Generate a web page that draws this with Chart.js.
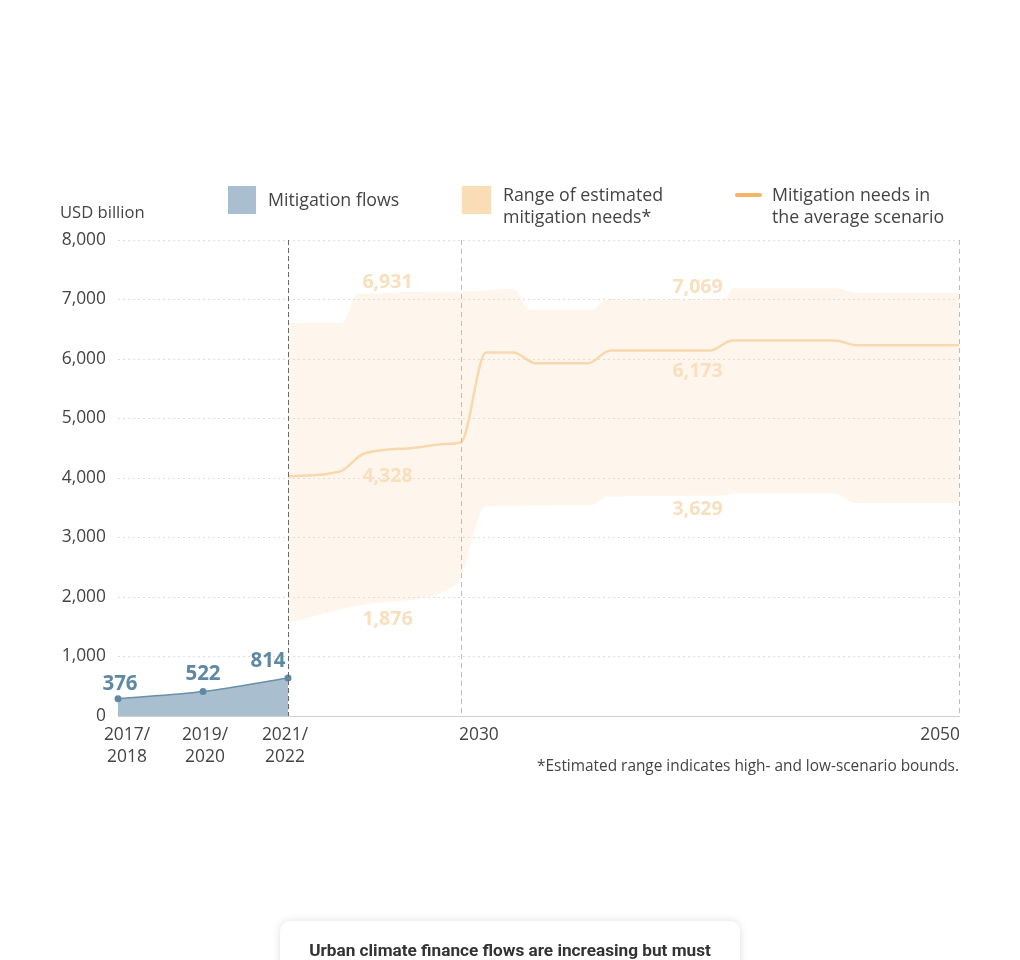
<!DOCTYPE html>
<html>
<head>
<meta charset="utf-8">
<script src="https://cdn.jsdelivr.net/npm/chart.js@4.4.1/dist/chart.umd.min.js"></script>
<style>
  html, body { margin:0; padding:0; background:#fff; }
  body { width:1020px; height:960px; overflow:hidden; position:relative; font-family:"Open Sans", sans-serif; color:#444; }
  #wrap { position:absolute; left:0; top:0; width:1020px; height:960px; }
  .lg { position:absolute; font-size:17.8px; line-height:22px; color:#444; }
  .sw { position:absolute; }
  #card { position:absolute; left:280px; top:921px; width:460px; height:80px; background:#fff; border-radius:10px;
          box-shadow:0 0 8px rgba(0,0,0,0.13); }
  #card div { font-family:Roboto, sans-serif; font-weight:700; font-size:17.2px; color:#333; text-align:center; margin-top:19px; white-space:nowrap; }
</style>
</head>
<body>
<div id="wrap"><canvas id="c"></canvas></div>

<div class="lg" style="left:60px; top:201px; font-size:16.6px;">USD billion</div>
<div class="sw" style="left:228px; top:186px; width:28px; height:28px; background:#A9BFCF;"></div>
<div class="lg" style="left:268px; top:188px;">Mitigation flows</div>
<div class="sw" style="left:462px; top:186px; width:29px; height:28px; background:#FADDB4;"></div>
<div class="lg" style="left:503px; top:183px;">Range of estimated<br>mitigation needs*</div>
<div class="sw" style="left:735px; top:193px; width:27px; height:4px; border-radius:2px; background:#F5B468;"></div>
<div class="lg" style="left:772px; top:183px;">Mitigation needs in<br>the average scenario</div>
<div class="lg" style="right:61px; top:755px; font-size:15.4px; text-align:right;">*Estimated range indicates high- and low-scenario bounds.</div>

<div id="card"><div>Urban climate finance flows are increasing but must</div></div>

<script>
// ---------------- data ----------------
const flowYears   = [2018, 2020, 2022];
const flowValues  = [290, 410, 640];
const flowLabels  = [376, 522, 814];

const highYears   = [2022, 2024.5, 2025.2, 2030, 2032.1, 2032.8, 2035.2, 2035.9, 2040.6, 2040.9, 2045.1, 2045.8, 2050];
const highValues  = [6604, 6604, 7093, 7130, 7180, 6826, 6826, 7005, 7010, 7190, 7190, 7117, 7117];

const lowYears    = [2022, 2026, 2029.8, 2031, 2035.2, 2035.9, 2040.5, 2041, 2045, 2045.8, 2050];
const lowValues   = [1565, 1895, 2208, 3523, 3540, 3690, 3700, 3740, 3740, 3580, 3580];

const meanYears   = [2022, 2024.4, 2025.5, 2027.8, 2029.4, 2030, 2031, 2032.1, 2033, 2035.1, 2036, 2040, 2040.9, 2045, 2045.9, 2050];
const meanValues  = [4027, 4110, 4407, 4506, 4574, 4600, 6108, 6108, 5930, 5930, 6142, 6142, 6310, 6310, 6232, 6232];

const periodHigh  = [6931, 7069];
const periodMean  = [4328, 6173];
const periodLow   = [1876, 3629];

const xTickYears  = [2018, 2020, 2022, 2030, 2050];
const xTickLabels = [["2017/", "2018"], ["2019/", "2020"], ["2021/", "2022"], ["2030"], ["2050"]];
const yTicks      = [0, 1000, 2000, 3000, 4000, 5000, 6000, 7000, 8000];

// ---------------- piecewise time scale ----------------
const bpValues = [2018, 2022, 2030, 2050];
const bpFracs  = [0, 170/841, 343/841, 1];

class PiecewiseScale extends Chart.LinearScale {
  static id = 'piecewise';
  static defaults = Chart.LinearScale.defaults;
  getPixelForValue(value) {
    if (value === null || value === undefined || isNaN(value)) return NaN;
    let i = 0;
    while (i < bpValues.length - 2 && value > bpValues[i + 1]) i++;
    const f = bpFracs[i] + (value - bpValues[i]) / (bpValues[i + 1] - bpValues[i]) * (bpFracs[i + 1] - bpFracs[i]);
    return this.getPixelForDecimal(f);
  }
  getValueForPixel(pixel) {
    const f = this.getDecimalForPixel(pixel);
    let i = 0;
    while (i < bpFracs.length - 2 && f > bpFracs[i + 1]) i++;
    return bpValues[i] + (f - bpFracs[i]) / (bpFracs[i + 1] - bpFracs[i]) * (bpValues[i + 1] - bpValues[i]);
  }
}
Chart.register(PiecewiseScale);

const pts = (xs, ys) => xs.map((x, i) => ({x: x, y: ys[i]}));

// ---------------- overlay plugin ----------------
const overlay = {
  id: 'overlay',
  afterDatasetsDraw(chart) {
    const {ctx, chartArea: a, scales: {x, y}} = chart;
    ctx.save();
    // vertical reference lines
    [[2022, '#6a6a6a', [5, 3]], [2030, '#bdbdbd', [5, 4]], [2050, '#bdbdbd', [5, 4]]].forEach(([yr, col, dash]) => {
      const px = Math.round(x.getPixelForValue(yr)) + 0.5;
      ctx.beginPath();
      ctx.setLineDash(dash);
      ctx.strokeStyle = col;
      ctx.lineWidth = 1;
      ctx.moveTo(px, a.top);
      ctx.lineTo(px, a.bottom);
      ctx.stroke();
    });
    ctx.setLineDash([]);

    // period summary labels
    ctx.font = '700 19.5px "Open Sans", sans-serif';
    ctx.fillStyle = '#F8DFBD';
    ctx.textAlign = 'center';
    ctx.textBaseline = 'middle';
    const fmt = v => v.toLocaleString('en-US');
    const periodX = [2026.6, 2039.5];
    periodX.forEach((yr, i) => {
      const px = x.getPixelForValue(yr);
      ctx.fillText(fmt(periodHigh[i]), px, y.getPixelForValue(i === 0 ? 7295 : 7195));
      ctx.fillText(fmt(periodMean[i]), px, y.getPixelForValue(i === 0 ? 4030 : 5785));
      ctx.fillText(fmt(periodLow[i]),  px, y.getPixelForValue(i === 0 ? 1620 : 3467));
    });

    // flow labels
    ctx.fillStyle = '#5E88A3';
    ctx.font = '700 20.5px "Open Sans", sans-serif';
    const flowDx = [2, 0, -20];
    const flowDy = [-15, -17, -17];
    flowYears.forEach((yr, i) => {
      ctx.fillText(String(flowLabels[i]), x.getPixelForValue(yr) + flowDx[i], y.getPixelForValue(flowValues[i]) + flowDy[i]);
    });

    // x tick labels
    ctx.fillStyle = '#444';
    ctx.font = '17.4px "Open Sans", sans-serif';
    const align = ['center', 'center', 'center', 'left', 'right'];
    const dx = [9, 2, -3, -2, 1];
    xTickYears.forEach((yr, i) => {
      ctx.textAlign = align[i];
      const px = x.getPixelForValue(yr) + dx[i];
      xTickLabels[i].forEach((t, j) => ctx.fillText(t, px, a.bottom + 19 + j * 22));
    });
    ctx.restore();
  }
};

new Chart(document.getElementById('c'), {
  type: 'line',
  data: {
    datasets: [
      {
        label: 'Mitigation flows',
        data: pts(flowYears, flowValues),
        borderColor: '#6A8FA8',
        borderWidth: 1.5,
        backgroundColor: '#A9BFCF',
        fill: 'origin',
        cubicInterpolationMode: 'monotone',
        pointRadius: 3.5,
        pointBackgroundColor: '#5E88A3',
        pointBorderWidth: 0,
        clip: 10
      },
      {
        label: 'High scenario',
        data: pts(highYears, highValues),
        borderWidth: 0,
        borderColor: 'rgba(0,0,0,0)',
        backgroundColor: 'rgba(250,221,180,0.26)',
        fill: '+1',
        cubicInterpolationMode: 'monotone',
        pointRadius: 0
      },
      {
        label: 'Low scenario',
        data: pts(lowYears, lowValues),
        borderWidth: 0,
        borderColor: 'rgba(0,0,0,0)',
        fill: false,
        cubicInterpolationMode: 'monotone',
        pointRadius: 0
      },
      {
        label: 'Mitigation needs in the average scenario',
        data: pts(meanYears, meanValues),
        borderColor: '#F7D8AC',
        borderWidth: 2.5,
        fill: false,
        cubicInterpolationMode: 'monotone',
        pointRadius: 0
      }
    ]
  },
  options: {
    responsive: true,
    maintainAspectRatio: false,
    devicePixelRatio: 1,
    animation: false,
    events: [],
    layout: { padding: { top: 240, right: 61, bottom: 244, left: 0 } },
    plugins: { legend: { display: false }, tooltip: { enabled: false } },
    scales: {
      x: {
        type: 'piecewise',
        min: 2018,
        max: 2050,
        ticks: { display: false },
        grid: { display: false },
        border: { display: true, color: '#cfcfcf', width: 1 },
        afterFit(s) { s.height = 0; }
      },
      y: {
        type: 'linear',
        min: 0,
        max: 8000,
        afterBuildTicks(s) { s.ticks = yTicks.map(v => ({value: v})); },
        ticks: {
          color: '#444',
          font: { family: '"Open Sans", sans-serif', size: 17.4 },
          padding: 12,
          callback: v => Number(v).toLocaleString('en-US')
        },
        grid: { drawTicks: false, color: '#dedede', lineWidth: 1 },
        border: { display: false, dash: [2, 3] },
        afterFit(s) { s.width = 118; }
      }
    }
  },
  plugins: [overlay]
});
</script>
</body>
</html>
